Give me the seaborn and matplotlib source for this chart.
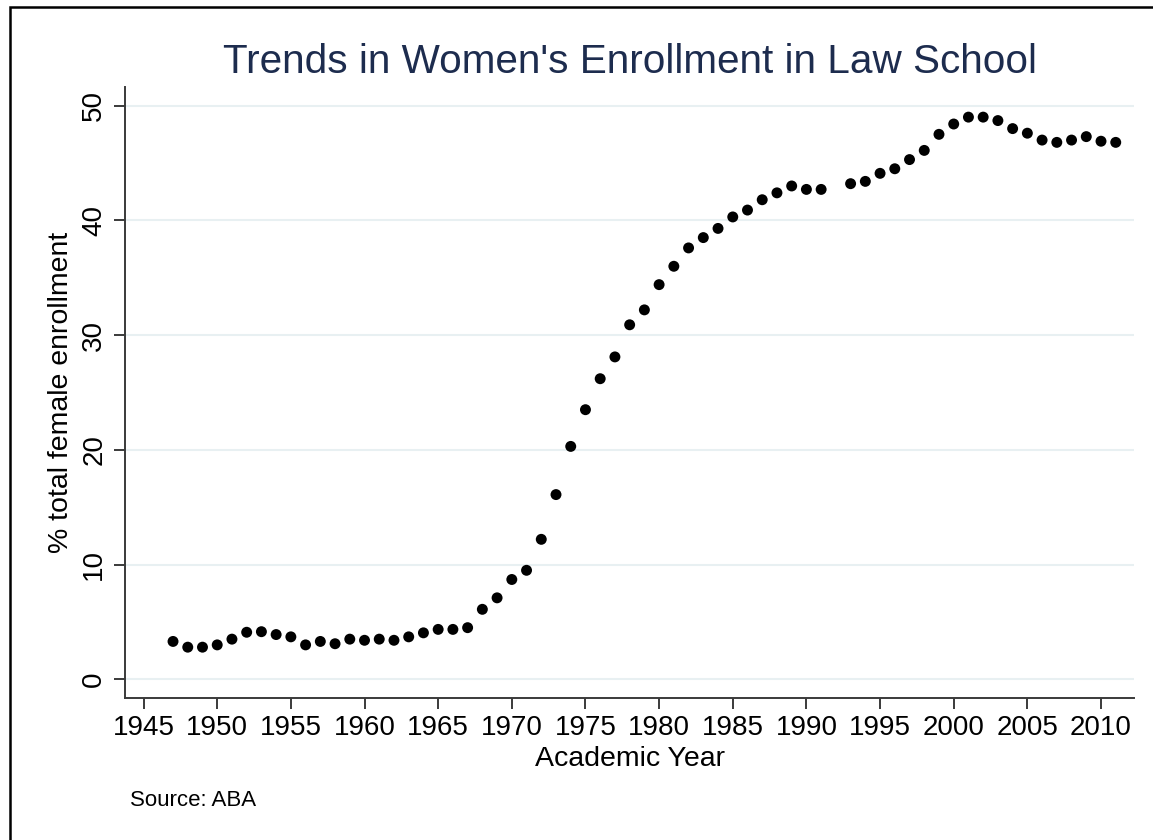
import matplotlib
matplotlib.use("Agg")
import matplotlib.pyplot as plt
import seaborn as sns
import pandas as pd
from matplotlib.patches import Rectangle

# Percent of total law school enrollment that is female (ABA), 1992 missing
years = [1947, 1948, 1949, 1950, 1951, 1952, 1953, 1954, 1955, 1956,
         1957, 1958, 1959, 1960, 1961, 1962, 1963, 1964, 1965, 1966,
         1967, 1968, 1969, 1970, 1971, 1972, 1973, 1974, 1975, 1976,
         1977, 1978, 1979, 1980, 1981, 1982, 1983, 1984, 1985, 1986,
         1987, 1988, 1989, 1990, 1991, 1993, 1994, 1995, 1996, 1997,
         1998, 1999, 2000, 2001, 2002, 2003, 2004, 2005, 2006, 2007,
         2008, 2009, 2010, 2011]
pct_female = [3.3, 2.8, 2.8, 3.0, 3.5, 4.1, 4.15, 3.9, 3.7, 3.0,
              3.3, 3.1, 3.5, 3.4, 3.5, 3.4, 3.7, 4.05, 4.35, 4.35,
              4.5, 6.1, 7.1, 8.7, 9.5, 12.2, 16.1, 20.3, 23.5, 26.2,
              28.1, 30.9, 32.2, 34.4, 36.0, 37.6, 38.5, 39.3, 40.3, 40.9,
              41.8, 42.4, 43.0, 42.7, 42.7, 43.2, 43.4, 44.1, 44.5, 45.3,
              46.1, 47.5, 48.4, 49.0, 49.0, 48.7, 48.0, 47.6, 47.0, 46.8,
              47.0, 47.3, 46.9, 46.8]
x_ticks = list(range(1945, 2011, 5))
y_ticks = [0, 10, 20, 30, 40, 50]

df = pd.DataFrame({"year": years, "pct": pct_female})

sns.set_theme(style="white")
plt.rcParams["font.family"] = ["Liberation Sans", "DejaVu Sans"]

fig = plt.figure(figsize=(11.53, 8.4), dpi=100)
ax = fig.add_axes([125.3 / 1153, 1 - 698 / 840, (1134 - 125.3) / 1153, (698 - 87.3) / 840])

sns.scatterplot(data=df, x="year", y="pct", ax=ax, color="black",
                s=62, edgecolor="none", zorder=3)

ax.set_xlim(1943.76, 2012.24)
ax.set_ylim(-1.63, 51.6)
ax.set_xticks(x_ticks)
ax.set_yticks(y_ticks)

# light horizontal grid only
ax.grid(False)
for y in y_ticks:
    ax.axhline(y, color="#e8f0f2", lw=1.5, zorder=0)

sns.despine(ax=ax)
for side in ["left", "bottom"]:
    ax.spines[side].set_color("#3a3a3a")
    ax.spines[side].set_linewidth(1.4)

ax.tick_params(axis="both", which="major", length=8, width=1.4,
               color="#3a3a3a", labelsize=20, labelcolor="black",
               bottom=True, left=True)
ax.tick_params(axis="x", pad=4)
ax.tick_params(axis="y", pad=5)
for lbl in ax.get_yticklabels():
    lbl.set_rotation(90)
    lbl.set_va("center")

ax.set_xlabel("Academic Year", fontsize=20.5, labelpad=4, color="black")
ax.set_ylabel("% total female enrollment", fontsize=20.5, labelpad=5, color="black")

fig.text(629.6 / 1153, 1 - 73.3 / 840, "Trends in Women's Enrollment in Law School",
         ha="center", va="baseline", fontsize=29.2, color="#1d2c4e")
fig.text(130 / 1153, 1 - 806 / 840, "Source: ABA", ha="left", va="baseline",
         fontsize=16, color="black")

# outer frame
fig.patches.append(Rectangle((10 / 1153, -0.1), 2, 1 - 7 / 840 + 0.1,
                             transform=fig.transFigure, fill=False,
                             edgecolor="black", lw=1.8))

fig.savefig("out.png", dpi=100)
